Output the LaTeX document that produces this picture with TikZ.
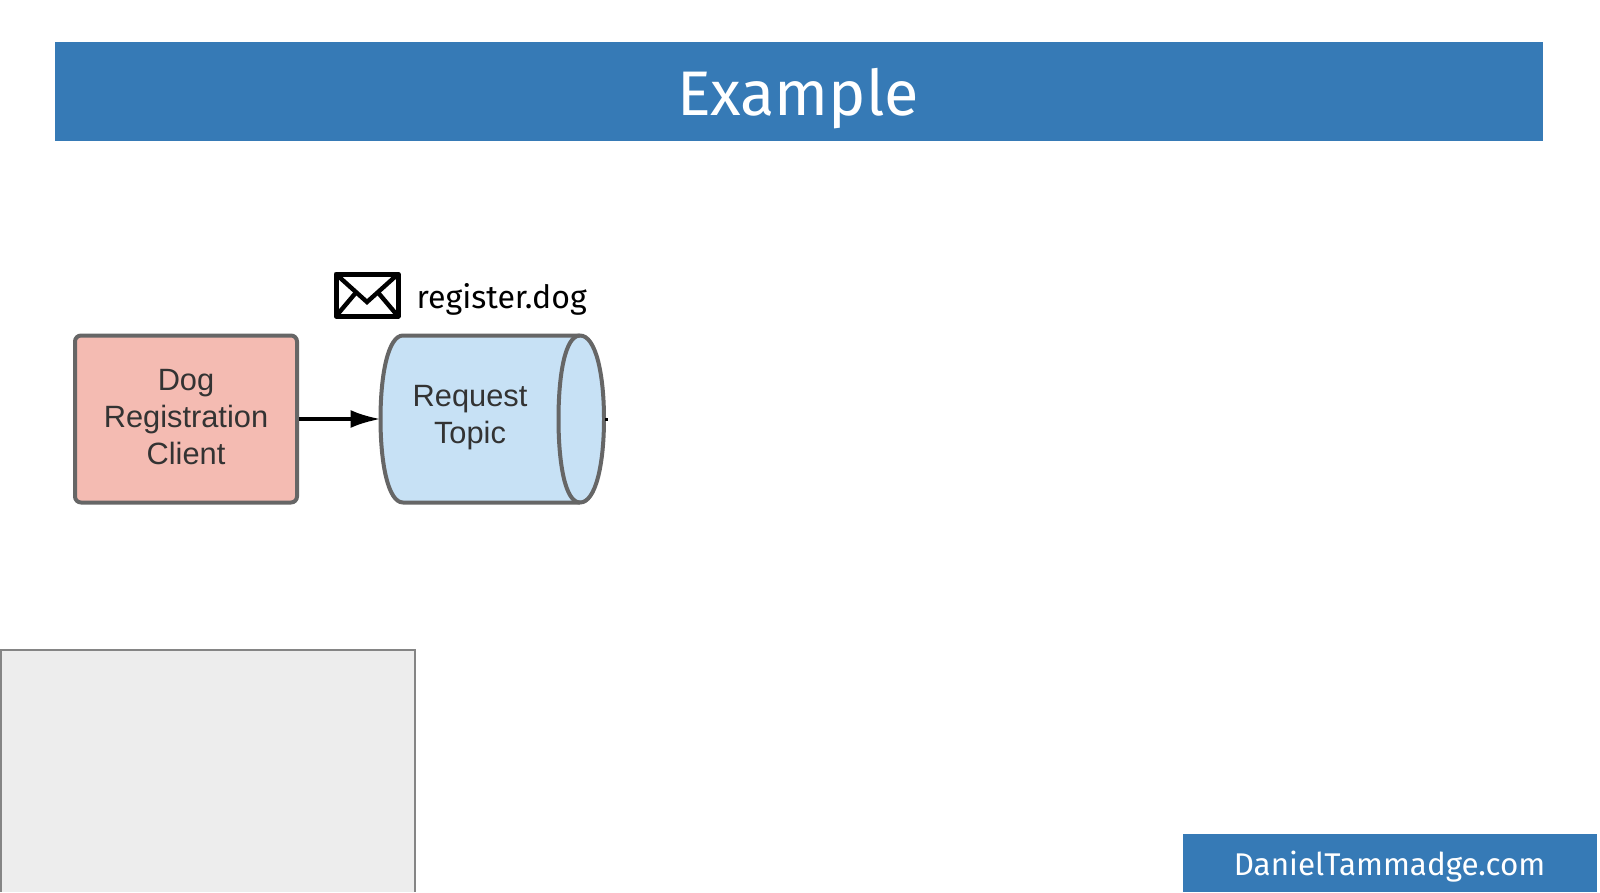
\documentclass[tikz,border=0pt]{standalone}
\usepackage{fontspec}
\setmainfont{Liberation Sans}
\newfontfamily\slidefont{Fira Sans}
\usetikzlibrary{arrows.meta}
\definecolor{bandblue}{HTML}{367AB6}
\definecolor{edgegrey}{HTML}{666666}
\definecolor{clientred}{HTML}{F4BBB2}
\definecolor{topicblue}{HTML}{C7E1F5}
\definecolor{labeltext}{HTML}{333333}
\definecolor{panelgrey}{HTML}{EDEDED}
\tikzset{
  x=1pt,y=-1pt,
  band/.style={fill=bandblue,draw=none},
  bandtext/.style={text=white,font=\slidefont\fontsize{#1}{#1}\selectfont,inner sep=0pt},
  lucid/.style={draw=edgegrey,line width=4pt,line join=round},
  boxlabel/.style={text=labeltext,font=\fontsize{30.8}{37}\selectfont,align=center,inner sep=0pt},
  flow/.style={-{Latex[length=30pt,width=18pt]},line width=3.6pt,black},
}
\begin{document}
\begin{tikzpicture}
\useasboundingbox (0,0) rectangle (1600,892);
\fill[white] (0,0) rectangle (1600,892);
% header
\fill[band] (54.5,41.5) rectangle (1542.5,141);
\node[bandtext=63] (title) at (798,99) {Example};
% grey panel
\fill[panelgrey] (0,649.5) rectangle (414.5,892);
\draw[draw=edgegrey!80,line width=2pt] (0.5,892) -- (0.5,649.5) -- (414.5,649.5) -- (414.5,892);
% footer
\fill[band] (1183,834) rectangle (1597,892);
\node[bandtext=31.4] (site) at (1389.5,867) {DanielTammadge.com};
% client
\node[lucid,fill=clientred,rounded corners=6pt,minimum width=222pt,minimum height=167pt,inner sep=0pt] (client) at (186,419) {};
\node[boxlabel] (clientlabel) at (186,417.5) {Dog\\Registration\\Client};
% topic cylinder
\coordinate (topicwest) at (380.5,419);
\coordinate (topiceast) at (604,419);
\draw[lucid,fill=topicblue] (580,335.5) -- (403,335.5)
  .. controls (388,335.5) and (380.5,375) .. (topicwest)
  .. controls (380.5,463) and (388,502.5) .. (403,502.5)
  -- (580,502.5)
  .. controls (596,502.5) and (604,463) .. (topiceast)
  .. controls (604,375) and (596,335.5) .. cycle;
\draw[lucid] (580,335.5) .. controls (565,335.5) and (558.5,375) .. (558.5,419)
  .. controls (558.5,463) and (565,502.5) .. (580,502.5);
\node[boxlabel] (topiclabel) at (470,418) {Request\\Topic};
\draw[flow] (client.east) -- (topicwest);
\fill[black] (topiceast) ++(1,-1.5) rectangle ++(3,3);
% envelope
\draw[black,line width=5pt,line join=round,fill=white] (336,274) rectangle (398,316);
\draw[black,line width=4.4pt,line join=miter] (337,275) -- (367,302) -- (397,275);
\draw[black,line width=4.4pt] (337,315) -- (356,292.5);
\draw[black,line width=4.4pt] (397,315) -- (378,292.5);
\node[inner sep=0pt,font=\slidefont\fontsize{32.1}{32}\selectfont,text=black,anchor=base west] (msg) at (416.5,308) {register.dog};
\end{tikzpicture}
\end{document}
